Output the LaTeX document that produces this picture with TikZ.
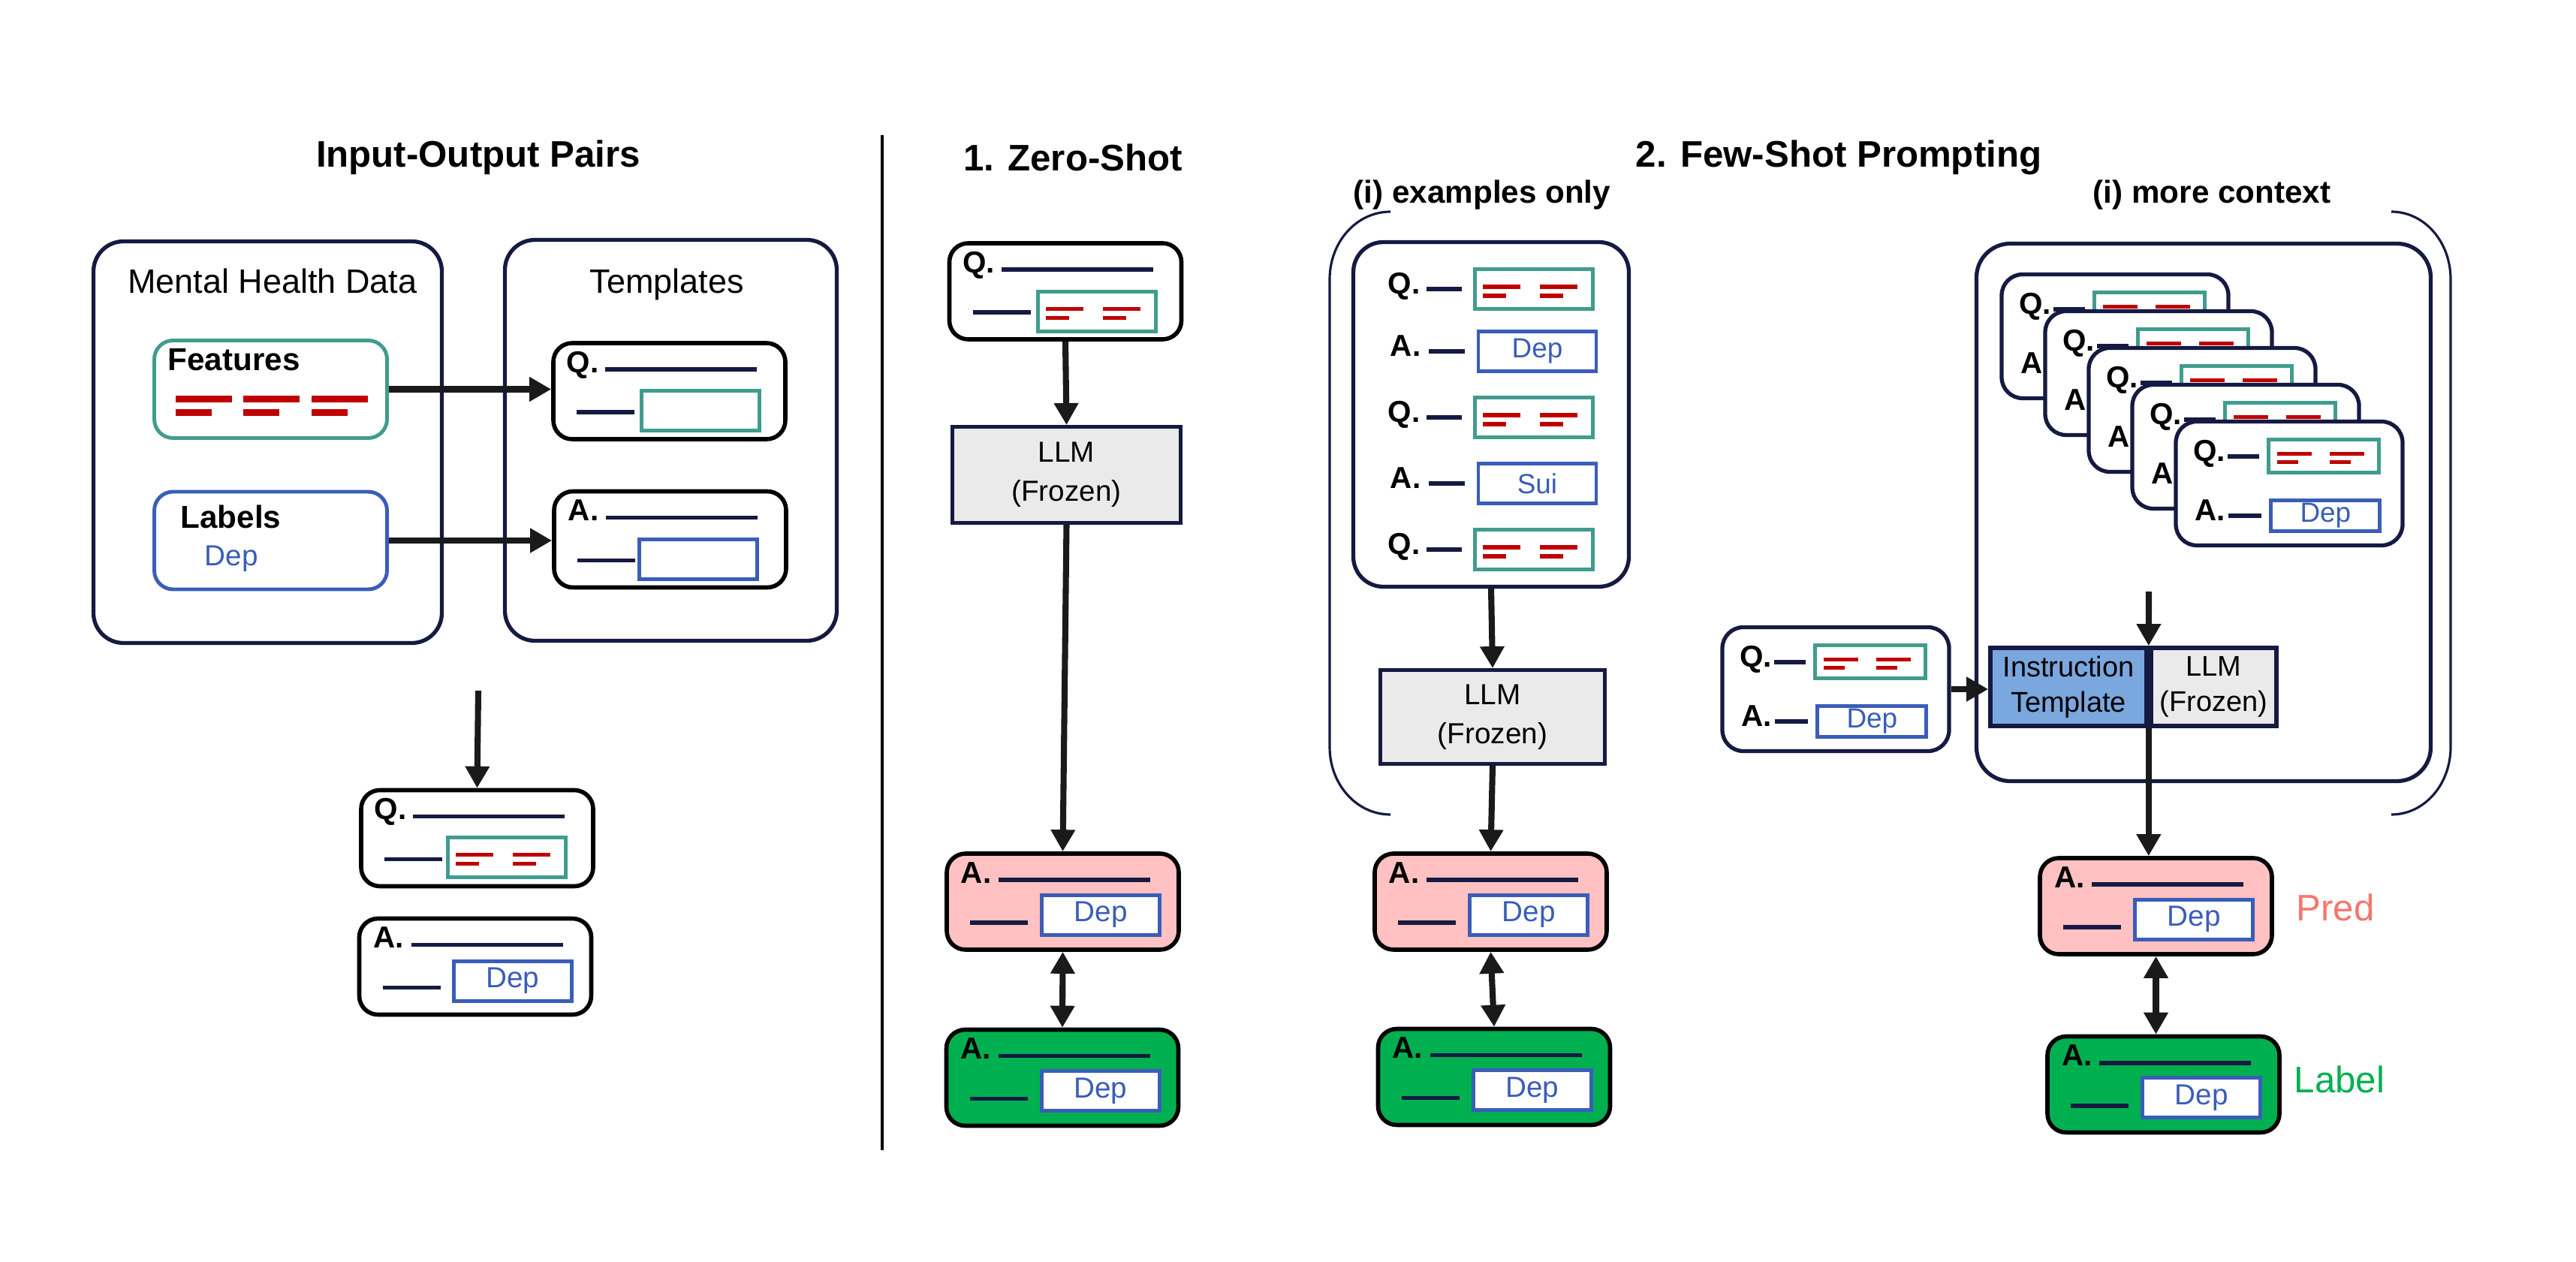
\documentclass[tikz,border=0pt]{standalone}
\usepackage{fontspec}
\setmainfont{Liberation Sans}
\usepackage{tikz}
\usetikzlibrary{arrows.meta,calc}

\definecolor{navy}{HTML}{151A42}
\definecolor{tealc}{HTML}{409C8E}
\definecolor{bluec}{HTML}{3A5DB9}
\definecolor{barred}{HTML}{C00000}
\definecolor{pinkfill}{HTML}{FFC1C1}
\definecolor{greenfill}{HTML}{00B050}
\definecolor{llmgray}{HTML}{EAEAEA}
\definecolor{instfill}{HTML}{7BA7DF}
\definecolor{predtext}{HTML}{F4776D}
\definecolor{arrowc}{HTML}{1A1A1A}

% two pairs of red bars inside a feature slot
\newcommand{\redbars}[2]{%
  \begin{scope}[shift={(#1.center)}, scale=#2]
    \draw[redbar] (-0.68,0.03) -- (-0.18,0.03) (-0.68,-0.09) -- (-0.37,-0.09)
                  (0.08,0.03) -- (0.58,0.03) (0.08,-0.09) -- (0.39,-0.09);
  \end{scope}}
% letter and rules of a wide Q/A card
\newcommand{\cardlines}[2]{%
  \node[tag, anchor=base] (#1-tag) at ([shift={(0.42,-0.42)}]#1.north west) {#2};
  \draw[rule] ([shift={(0.72,-0.38)}]#1.north west) -- ++(2.02,0);
  \draw[rule] ([shift={(0.34,-0.95)}]#1.north west) -- ++(0.77,0);}
% Q and A rows of a small example card
\newcommand{\cardrows}[1]{%
  \node[tag, anchor=base east] (#1-q) at ([shift={(0.69,-0.56)}]#1.north west) {Q.};
  \draw[rule] ([shift={(0.72,-0.49)}]#1.north west) -- ++(0.42,0);
  \node[qslot, minimum width=1.47cm, minimum height=0.44cm] (#1-qs) at ([shift={(2.00,-0.485)}]#1.north west) {};
  \redbars{#1-qs}{0.92}
  \node[tag, anchor=base east] (#1-a) at ([shift={(0.69,-1.35)}]#1.north west) {A.};
  \draw[rule] ([shift={(0.73,-1.28)}]#1.north west) -- ++(0.44,0);
  \node[aslot, minimum width=1.45cm, minimum height=0.41cm, font=\fontsize{10.5}{12}\selectfont] (#1-as) at ([shift={(2.02,-1.28)}]#1.north west) {Dep};}
% rows of the examples-only prompt
\newcommand{\qrow}[2]{%
  \node[tag, anchor=base east] (#1) at (18.92,{#2-0.07}) {Q.};
  \draw[rule] ([shift={(0.08,0.07)}]#1.base east) -- ++(0.47,0);
  \node[qslot] (#1-slot) at (20.43,#2) {};
  \redbars{#1-slot}{1}}
\newcommand{\arow}[3]{%
  \node[tag, anchor=base east] (#1) at (18.93,{#2-0.07}) {A.};
  \draw[rule] ([shift={(0.10,0.07)}]#1.base east) -- ++(0.48,0);
  \node[aslot, font=\fontsize{10.5}{12}\selectfont] (#1-slot) at (20.475,#2) {#3};}

\begin{document}
\begin{tikzpicture}[
  heading/.style={font=\fontsize{14}{17}\selectfont\bfseries},
  subheading/.style={font=\fontsize{12}{14}\selectfont\bfseries},
  caption/.style={font=\fontsize{12.8}{15}\selectfont},
  frame/.style={draw=navy, line width=1.5pt, rounded corners=0.4cm, inner sep=0},
  group/.style={line width=1.4pt, rounded corners=0.25cm, inner sep=0, minimum width=3.10cm, minimum height=1.30cm},
  card/.style={draw=black, line width=1.6pt, rounded corners=0.25cm, fill=white, inner sep=0, minimum width=3.09cm, minimum height=1.28cm},
  minicard/.style={draw=navy, line width=1.5pt, rounded corners=0.28cm, fill=white, inner sep=0, minimum width=3.02cm, minimum height=1.65cm},
  qslot/.style={draw=tealc, line width=1.4pt, fill=white, inner sep=0, minimum width=1.57cm, minimum height=0.53cm},
  aslot/.style={draw=bluec, line width=1.4pt, fill=white, inner sep=0, minimum width=1.57cm, minimum height=0.53cm, text=bluec, font=\fontsize{11}{13}\selectfont},
  tag/.style={font=\fontsize{11.5}{13}\selectfont\bfseries, inner sep=0},
  rule/.style={draw=navy, line width=1.6pt},
  redbar/.style={draw=barred, line width=1.5pt},
  llm/.style={draw=navy, line width=1.4pt, fill=llmgray, align=center, inner sep=0, font=\fontsize{11}{14.8}\selectfont},
  flow/.style={draw=arrowc, line width=2.3pt, -{Triangle[length=0.29cm, width=0.31cm]}},
  twoway/.style={draw=arrowc, line width=2.3pt, {Triangle[length=0.29cm, width=0.31cm]}-{Triangle[length=0.29cm, width=0.31cm]}},
  bracket/.style={draw=navy, line width=0.9pt}
]
\useasboundingbox (0,0) rectangle (34.31,-16.81);

% input-output pairs
\node[heading] (pairs) at (6.37,-2.10) {Input-Output Pairs};
\node[frame, minimum width=4.64cm, minimum height=5.35cm] (mhd) at (3.565,-5.89) {};
\node[frame, minimum width=4.42cm, minimum height=5.34cm] (tmpl) at (8.935,-5.865) {};
\node[caption, anchor=base] (mhdname) at ([shift={(0.065,-0.72)}]mhd.north) {Mental Health Data};
\node[caption, anchor=base] (tmplname) at ([shift={(-0.055,-0.74)}]tmpl.north) {Templates};

\node[group, draw=tealc] (feat) at (3.605,-5.185) {};
\node[font=\fontsize{12}{14}\selectfont\bfseries, anchor=base west, inner sep=0] (featname) at ([shift={(0.20,-0.42)}]feat.north west) {Features};
\begin{scope}[shift={(feat.center)}]
  \draw[redbar, line width=2.6pt] (-1.265,-0.13) -- ++(0.75,0) (-1.265,-0.31) -- ++(0.48,0)
    (-0.365,-0.13) -- ++(0.75,0) (-0.365,-0.31) -- ++(0.48,0)
    (0.545,-0.13) -- ++(0.75,0) (0.545,-0.31) -- ++(0.48,0);
\end{scope}
\node[group, draw=bluec] (lab) at (3.605,-7.20) {};
\node[font=\fontsize{12}{14}\selectfont\bfseries, anchor=base west, inner sep=0] (labname) at ([shift={(0.37,-0.51)}]lab.north west) {Labels};
\node[font=\fontsize{11}{13}\selectfont, text=bluec, anchor=base west, inner sep=0] (labdep) at ([shift={(0.69,-1.01)}]lab.north west) {Dep};

\node[card] (tq) at (8.915,-5.21) {};
\cardlines{tq}{Q.}
\node[qslot] (tq-slot) at ([shift={(1.99,-0.93)}]tq.north west) {};
\node[card] (ta) at (8.925,-7.185) {};
\cardlines{ta}{A.}
\node[aslot] (ta-slot) at ([shift={(1.95,-0.93)}]ta.north west) {};

\draw[flow] (feat.east) -- (feat.east -| tq.west);
\draw[flow] (lab.east) -- (lab.east -| ta.west);

\coordinate (pairsout) at (6.37,-9.20);
\node[card] (bq) at (6.355,-11.165) {};
\cardlines{bq}{Q.}
\node[qslot] (bq-slot) at ([shift={(1.97,-0.92)}]bq.north west) {};
\redbars{bq-slot}{1}
\node[card] (ba) at (6.33,-12.875) {};
\cardlines{ba}{A.}
\node[aslot] (ba-slot) at ([shift={(2.07,-0.86)}]ba.north west) {Dep};
\draw[flow] (pairsout) -- (bq.north);

\draw[line width=1.1pt] (11.75,-1.80) -- (11.75,-15.32);

% zero-shot
\node[heading] (zero) at (14.29,-2.10) {1. Zero-Shot};
\node[card] (zq) at (14.19,-3.88) {};
\cardlines{zq}{Q.}
\node[qslot] (zq-slot) at ([shift={(1.995,-0.935)}]zq.north west) {};
\redbars{zq-slot}{1}
\node[llm, minimum width=3.04cm, minimum height=1.28cm] (zllm) at (14.205,-6.325) {LLM\\(Frozen)};
\node[card, fill=pinkfill] (zp) at (14.155,-12.01) {};
\cardlines{zp}{A.}
\node[aslot] (zp-slot) at ([shift={(2.08,-0.845)}]zp.north west) {Dep};
\node[card, fill=greenfill] (zl) at (14.15,-14.355) {};
\cardlines{zl}{A.}
\node[aslot] (zl-slot) at ([shift={(2.08,-0.845)}]zl.north west) {Dep};
\draw[flow] (zq.south) -- (zllm.north);
\draw[flow] (zllm.south) -- (zp.north);
\draw[twoway] (zp.south) -- (zl.north);

% few-shot
\node[heading] (few) at (24.49,-2.10) {2. Few-Shot Prompting};
\node[subheading] (exonly) at (19.74,-2.60) {(i) examples only};
\node[subheading] (morectx) at (29.46,-2.60) {(i) more context};
\draw[bracket] (18.52,-2.82) .. controls (18.07,-2.82) and (17.71,-3.22) .. (17.71,-3.72)
  -- (17.71,-9.95) .. controls (17.71,-10.45) and (18.07,-10.85) .. (18.52,-10.85);
\draw[bracket] (31.85,-2.82) .. controls (32.29,-2.82) and (32.64,-3.22) .. (32.64,-3.72)
  -- (32.64,-9.95) .. controls (32.64,-10.45) and (32.29,-10.85) .. (31.85,-10.85);

\node[frame, minimum width=3.67cm, minimum height=4.59cm] (ex) at (19.86,-5.52) {};
\qrow{exq1}{-3.85}
\arow{exa1}{-4.68}{Dep}
\qrow{exq2}{-5.56}
\arow{exa2}{-6.44}{Sui}
\qrow{exq3}{-7.32}
\node[llm, minimum width=2.99cm, minimum height=1.25cm] (exllm) at (19.88,-9.55) {LLM\\(Frozen)};
\node[card, fill=pinkfill] (fp) at (19.855,-12.01) {};
\cardlines{fp}{A.}
\node[aslot] (fp-slot) at ([shift={(2.08,-0.845)}]fp.north west) {Dep};
\node[card, fill=greenfill] (fl) at (19.90,-14.345) {};
\cardlines{fl}{A.}
\node[aslot] (fl-slot) at ([shift={(2.08,-0.845)}]fl.north west) {Dep};
\draw[flow] (ex.south) -- (exllm.north);
\draw[flow] (exllm.south) -- (fp.north);
\draw[twoway] (fp.south) -- (fl.north);

\node[frame, rounded corners=0.45cm, minimum width=6.05cm, minimum height=7.16cm] (ctx) at (29.35,-6.825) {};
\node[minicard] (ctxa) at (28.17,-4.48) {};
\cardrows{ctxa}
\node[minicard] (ctxb) at (28.75,-4.97) {};
\cardrows{ctxb}
\node[minicard] (ctxc) at (29.33,-5.46) {};
\cardrows{ctxc}
\node[minicard] (ctxd) at (29.91,-5.95) {};
\cardrows{ctxd}
\node[minicard] (ctxe) at (30.49,-6.44) {};
\cardrows{ctxe}
\coordinate (ctxout) at (28.62,-7.88);

\node[draw=navy, line width=1.6pt, fill=instfill, align=center, inner sep=0, minimum width=2.08cm, minimum height=1.04cm, font=\fontsize{10.8}{13.4}\selectfont] (inst) at (27.55,-9.15) {Instruction\\Template};
\node[llm, line width=1.6pt, minimum width=1.67cm, minimum height=1.04cm, font=\fontsize{10.8}{13.4}\selectfont] (fllm) at (29.485,-9.15) {LLM\\(Frozen)};
\node[minicard] (inp) at (24.45,-9.18) {};
\cardrows{inp}

\node[card, fill=pinkfill] (gp) at (28.715,-12.07) {};
\cardlines{gp}{A.}
\node[aslot] (gp-slot) at ([shift={(2.08,-0.845)}]gp.north west) {Dep};
\node[card, fill=greenfill] (gl) at (28.815,-14.445) {};
\cardlines{gl}{A.}
\node[aslot] (gl-slot) at ([shift={(2.08,-0.845)}]gl.north west) {Dep};
\node[font=\fontsize{14}{17}\selectfont, text=predtext, anchor=base west, inner sep=0] (predname) at (30.58,-12.27) {Pred};
\node[font=\fontsize{14}{17}\selectfont, text=greenfill, anchor=base west, inner sep=0] (labelname) at (30.55,-14.56) {Label};

\draw[flow] (ctxout) -- (inst.north east);
\draw[flow] (inp.east) -- (inp.east -| inst.west);
\draw[flow] (inst.south east) -- (inst.south east |- gp.north);
\draw[twoway] (gp.south) -- (gp.south |- gl.north);

\end{tikzpicture}
\end{document}
